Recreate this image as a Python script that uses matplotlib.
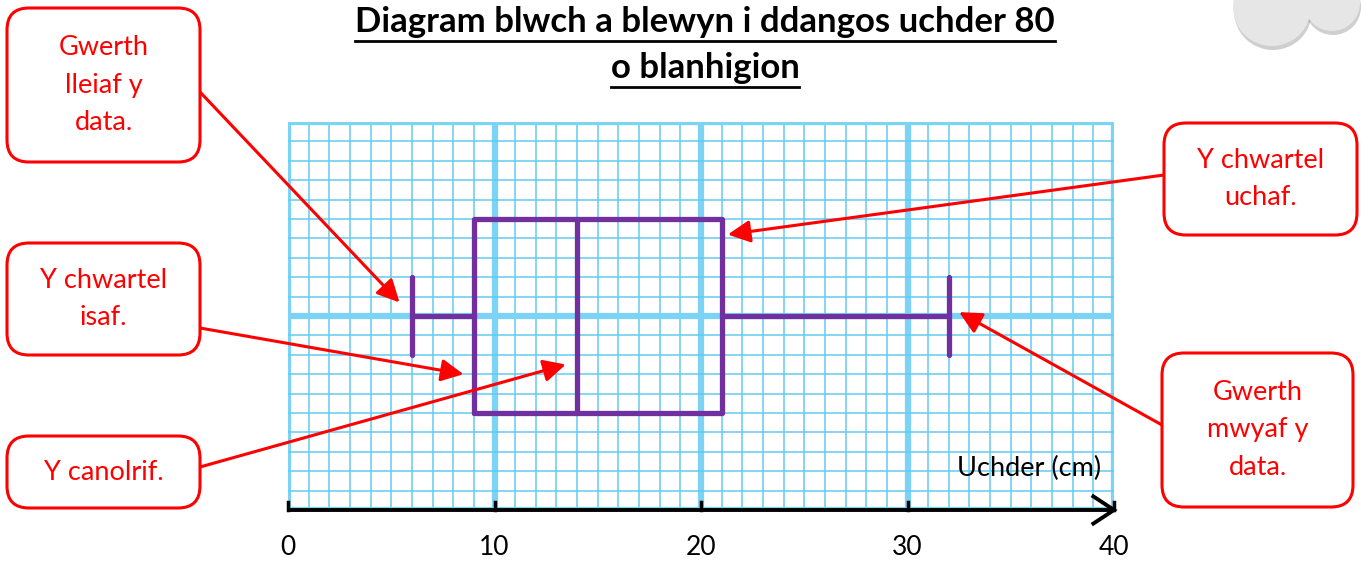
import matplotlib
matplotlib.use("Agg")
import matplotlib.pyplot as plt
from matplotlib.patches import FancyBboxPatch, Circle
from matplotlib.transforms import IdentityTransform

# box plot summary (cm)
min_val = 6
q1 = 9
median = 14
q3 = 21
max_val = 32

x_ticks = [0, 10, 20, 30, 40]
title_lines = ["Diagram blwch a blewyn i ddangos uchder 80", "o blanhigion"]
axis_label = "Uchder (cm)"

callout_texts = ["Gwerth\nlleiaf y\ndata.", "Y chwartel\nisaf.", "Y canolrif.",
                 "Y chwartel\nuchaf.", "Gwerth\nmwyaf y\ndata."]
callout_targets = [min_val, q1, median, q3, max_val]

W, H = 1361, 561
RED = "#FF0000"
PURPLE = "#7030A0"
plt.rcParams['font.family'] = ['Lato', 'DejaVu Sans']

fig = plt.figure(figsize=(W / 100, H / 100), dpi=100)


def px(x, y):
    # image pixel (top-left origin) -> figure fraction
    return (x / W, 1 - y / H)


ax = fig.add_axes([288 / W, 51 / H, 826 / W, 388 / H])
ax.set_xlim(0, 40)
ax.set_ylim(0, 20)
ax.axis('off')

# graph paper
for v in range(0, 41):
    if v % 10 == 0:
        ax.axvline(v, color='#7DD3F5', lw=4.5, zorder=1)
    else:
        ax.axvline(v, color='#62CBF1', lw=1.3, alpha=0.85, zorder=1)
for v in range(0, 21):
    if v % 10 == 0:
        ax.axhline(v, color='#7DD3F5', lw=4.5, zorder=1)
    else:
        ax.axhline(v, color='#62CBF1', lw=1.3, alpha=0.85, zorder=1)

stats = [{'med': median, 'q1': q1, 'q3': q3, 'whislo': min_val, 'whishi': max_val, 'fliers': []}]
lp = dict(color=PURPLE, lw=3.8, solid_capstyle='round')
ax.bxp(stats, positions=[10], widths=10, capwidths=[4], orientation='horizontal',
       showfliers=False, boxprops=lp, whiskerprops=lp, capprops=lp, medianprops=lp,
       manage_ticks=False, zorder=3)

# x axis with arrow
ax.plot([0, 40], [0, 0], color='black', lw=2.8, clip_on=False, zorder=4, solid_capstyle='butt')
ax.plot([39.0, 40, 39.0], [0.7, 0, -0.7], color='black', lw=2.8, clip_on=False, zorder=4,
        solid_joinstyle='miter')
for t in x_ticks:
    ax.plot([t, t], [0, 0.4], color='black', lw=2.5, clip_on=False, zorder=4)
    ax.text(t, -1.95, str(t), ha='center', va='center', fontsize=19, color='black')
ax.text(39.4, 2.15, axis_label, ha='right', va='center', fontsize=19.5, color='black', zorder=5)

# title with underline
fig.canvas.draw()
renderer = fig.canvas.get_renderer()
for line, yc in zip(title_lines, [22, 68]):
    t = fig.text(*px(705, yc), line, ha='center', va='center', fontsize=25, fontweight='bold')
    bb = t.get_window_extent(renderer)
    uy = 1 - (yc + 19) / H
    fig.add_artist(plt.Line2D([bb.x0 / W, bb.x1 / W], [uy, uy], color='black', lw=2))

# callout boxes: (left, top, right, bottom) in pixels, arrow start, arrow tip offset
boxes = [(7, 8, 200, 162), (7, 243, 200, 355), (7, 436, 200, 508),
         (1164, 123, 1357, 235), (1162, 353, 1353, 507)]
starts = [(200, 92), (200, 328), (200, 467), (1164, 175), (1162, 425)]
tips = [(-0.6, 10.7), (-0.5, 7.0), (-0.55, 7.5), (0.3, 14.2), (0.5, 10.2)]

for txt, target, (l, tp, r, b), st, (dx, ty) in zip(callout_texts, callout_targets, boxes, starts, tips):
    x0, y0 = px(l, b)
    x1, y1 = px(r, tp)
    patch = FancyBboxPatch((l, H - b), r - l, b - tp, boxstyle="round,pad=0,rounding_size=22",
                           transform=IdentityTransform(), facecolor='white', edgecolor=RED,
                           lw=2.2, zorder=5)
    fig.add_artist(patch)
    fig.text((x0 + x1) / 2, (y0 + y1) / 2, txt, ha='center', va='center', fontsize=19.5,
             color=RED, linespacing=1.62, zorder=6)
    ax.annotate('', xy=(target + dx, ty), xycoords='data', xytext=px(*st), textcoords='figure fraction',
                arrowprops=dict(arrowstyle='-|>,head_length=0.9,head_width=0.45', color=RED, lw=2.2,
                                shrinkA=0, shrinkB=0, mutation_scale=15),
                annotation_clip=False, zorder=4)

# cloud in the corner
cloud = [(1272, 7, 39), (1332, 3, 28), (1310, -30, 48)]
for (cx, cy, r) in cloud:
    fig.add_artist(Circle((cx + 1, H - cy - 4), r, transform=IdentityTransform(),
                          facecolor='#A8A8A8', edgecolor='none', alpha=0.55, zorder=1))
for (cx, cy, r) in cloud:
    fig.add_artist(Circle((cx, H - cy), r, transform=IdentityTransform(),
                          facecolor='#E6E6E6', edgecolor='none', zorder=2))

fig.savefig('out.png', dpi=100, facecolor='white')
